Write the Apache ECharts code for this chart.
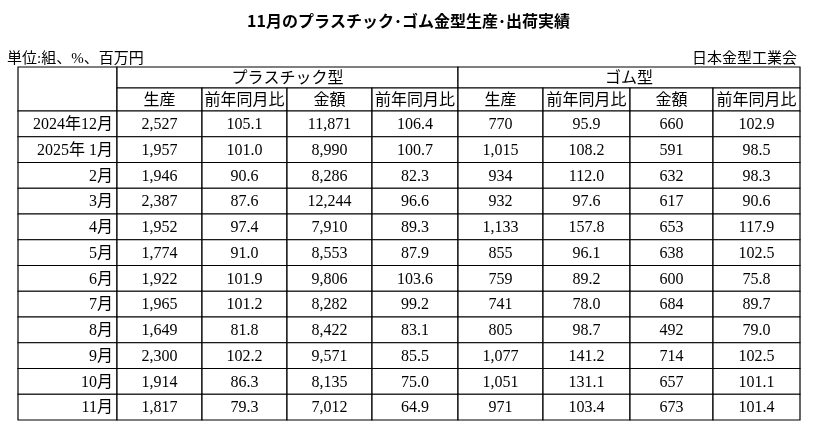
<!DOCTYPE html>
<html><head><meta charset="utf-8">
<script src="https://cdn.jsdelivr.net/npm/echarts@6/dist/echarts.min.js"></script>
<style>html,body{margin:0;background:#fff}#c{width:817px;height:436px}</style>
</head><body><div id="c"></div>
<script>
var months = ['2024年12月','2025年 1月','2月','3月','4月','5月','6月','7月','8月','9月','10月','11月'];
var plasticProd = ['2,527','1,957','1,946','2,387','1,952','1,774','1,922','1,965','1,649','2,300','1,914','1,817'];
var plasticProdYoY = ['105.1','101.0','90.6','87.6','97.4','91.0','101.9','101.2','81.8','102.2','86.3','79.3'];
var plasticAmt = ['11,871','8,990','8,286','12,244','7,910','8,553','9,806','8,282','8,422','9,571','8,135','7,012'];
var plasticAmtYoY = ['106.4','100.7','82.3','96.6','89.3','87.9','103.6','99.2','83.1','85.5','75.0','64.9'];
var rubberProd = ['770','1,015','934','932','1,133','855','759','741','805','1,077','1,051','971'];
var rubberProdYoY = ['95.9','108.2','112.0','97.6','157.8','96.1','89.2','78.0','98.7','141.2','131.1','103.4'];
var rubberAmt = ['660','591','632','617','653','638','600','684','492','714','657','673'];
var rubberAmtYoY = ['102.9','98.5','98.3','90.6','117.9','102.5','75.8','89.7','79.0','102.5','101.1','101.4'];
var groups = ['プラスチック型','ゴム型'];
var subHeads = ['生産','前年同月比','金額','前年同月比'];

// layout (column widths and row heights in px)
var colW = [99,85,85,85,86,85,87,83,87];
var colEdge = [0];
colW.forEach(function(w){ colEdge.push(colEdge[colEdge.length-1]+w); });
var rowEdge = [0,21,44];
for (var i = 0; i < months.length; i++) rowEdge.push(44 + (i+1)*25.75);

var cells = [];
function cell(c0,c1,r0,r1,text,align){ cells.push([c0,c1,r0,r1,text,align||'center']); }
cell(0,1,0,2,'');
cell(1,5,0,1,groups[0]); cell(5,9,0,1,groups[1]);
for (var k = 0; k < 8; k++) cell(k+1,k+2,1,2,subHeads[k%4]);
var cols = [plasticProd,plasticProdYoY,plasticAmt,plasticAmtYoY,rubberProd,rubberProdYoY,rubberAmt,rubberAmtYoY];
months.forEach(function(m,i){
  cell(0,1,i+2,i+3,m,'right');
  cols.forEach(function(arr,j){ cell(j+1,j+2,i+2,i+3,arr[i]); });
});

var font = '"Liberation Serif","Noto Sans CJK JP",serif';
var chart = echarts.init(document.getElementById('c'));
chart.setOption({
  backgroundColor:'#fff',
  animation:false,
  title:[
    {text:'11月のプラスチック･ゴム金型生産･出荷実績',left:'center',top:8,textStyle:{fontFamily:'"Noto Sans CJK JP"',fontSize:16,fontWeight:'bold',color:'#000'}},
    {text:'単位:組、%、百万円',left:2,top:47,textStyle:{fontFamily:font,fontSize:15,fontWeight:'normal',color:'#000'}},
    {text:'日本金型工業会',right:15,top:47,textStyle:{fontFamily:font,fontSize:15,fontWeight:'normal',color:'#000'}}
  ],
  grid:{left:18,right:17,top:67,bottom:16},
  xAxis:{type:'value',min:0,max:colEdge[colEdge.length-1],show:false},
  yAxis:{type:'value',min:0,max:rowEdge[rowEdge.length-1],inverse:true,show:false},
  series:[{
    type:'custom',
    data:cells,
    renderItem:function(params,api){
      var d = cells[params.dataIndex];
      var p0 = api.coord([colEdge[d[0]],rowEdge[d[2]]]);
      var p1 = api.coord([colEdge[d[1]],rowEdge[d[3]]]);
      var x = d[5]==='right' ? p1[0]-4 : (p0[0]+p1[0])/2;
      return {type:'group',children:[
        {type:'rect',shape:{x:p0[0],y:p0[1],width:p1[0]-p0[0],height:p1[1]-p0[1]},style:{fill:'#fff',stroke:'#000',lineWidth:1.2}},
        {type:'text',style:{x:x,y:(p0[1]+p1[1])/2+1,text:d[4],align:d[5],verticalAlign:'middle',fontFamily:font,fontSize:16,fill:'#000'}}
      ]};
    }
  }]
});
</script></body></html>
